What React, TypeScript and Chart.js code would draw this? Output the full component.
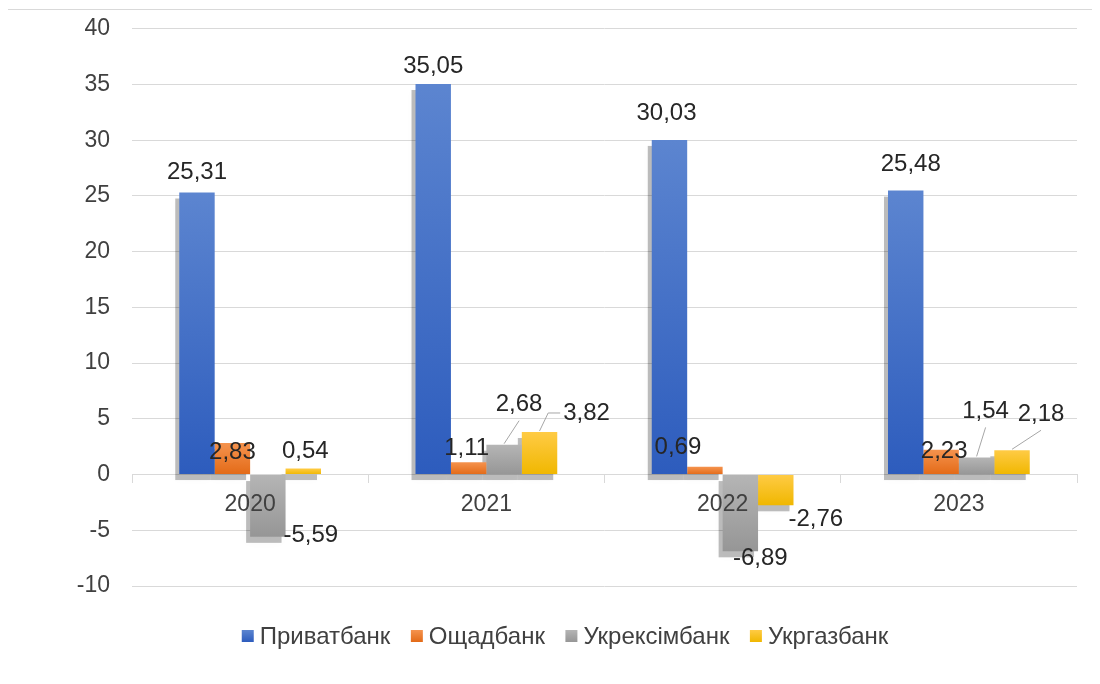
import React, { useEffect, useRef } from "react";
import { Chart, registerables } from "chart.js";

Chart.register(...registerables);

// ---- data ----
const years = ["2020", "2021", "2022", "2023"];
const bankNames = ["Приватбанк", "Ощадбанк", "Укрексімбанк", "Укргазбанк"];
const privatbank = [25.31, 35.05, 30.03, 25.48];
const oschadbank = [2.83, 1.11, 0.69, 2.23];
const ukreximbank = [-5.59, 2.68, -6.89, 1.54];
const ukrgasbank = [0.54, 3.82, -2.76, 2.18];
const yMin = -10;
const yMax = 40;
const yStep = 5;

// ---- styles ----
const barGradients = [
  ["#5c85d0", "#2d5cbd"],
  ["#f5934e", "#e36a17"],
  ["#b5b5b5", "#969696"],
  ["#ffcb45", "#f0b700"],
];

// label placement (offsets in px from default spot) and leader-line kind
const labelOffsets = [
  [[0, 0], [0, 2], [-3, -7], [5, -6]],
  [[0, 29], [-2, 6], [-27, 1], [3, 22]],
  [[43, -21], [15, -20], [20, -13], [9, -26]],
  [[2, 3], [47, 1], [40, -6], [29, -16]],
];
const leaderKinds = [
  [0, 0, 0, 0],
  [0, 0, 0, 0],
  [0, 1, 0, 1],
  [0, 2, 0, 1],
];

const FONT = '"Liberation Sans", Arial, sans-serif';
const fmt = (v: number) => v.toFixed(2).replace(".", ",");
const CANVAS_SHIFT = 17;

function makeGrad(ctx: CanvasRenderingContext2D, top: number, bottom: number, idx: number) {
  const g = ctx.createLinearGradient(0, top, 0, Math.max(bottom, top + 1));
  g.addColorStop(0, barGradients[idx][0]);
  g.addColorStop(1, barGradients[idx][1]);
  return g;
}

const shadowPlugin = {
  id: "barShadow",
  beforeDatasetsDraw(chart: any) {
    const ctx = chart.ctx as CanvasRenderingContext2D;
    ctx.save();
    chart.data.datasets.forEach((_ds: any, i: number) => {
      const meta = chart.getDatasetMeta(i);
      meta.data.forEach((bar: any) => {
        const { x, y, base, width } = bar.getProps(["x", "y", "base", "width"], true);
        const top = Math.min(y, base);
        const bottom = Math.max(y, base);
        ctx.shadowColor = "rgba(0,0,0,0.09)";
        ctx.shadowBlur = 9;
        ctx.fillStyle = "rgba(0,0,0,0.26)";
        ctx.fillRect(x - width / 2 - 4, top + 6, width, bottom - top);
      });
    });
    ctx.restore();
  },
};

const labelPlugin = {
  id: "barLabels",
  afterDatasetsDraw(chart: any) {
    const ctx = chart.ctx as CanvasRenderingContext2D;
    ctx.save();
    ctx.font = `24px ${FONT}`;
    ctx.textAlign = "center";
    ctx.textBaseline = "middle";
    chart.data.datasets.forEach((ds: any, i: number) => {
      const meta = chart.getDatasetMeta(i);
      meta.data.forEach((bar: any, j: number) => {
        const v = ds.data[j] as number;
        const { x, y } = bar.getProps(["x", "y"], true);
        const [dx, dy] = labelOffsets[i][j];
        const lx = x + dx;
        const ly = (v >= 0 ? y - 20 : y + 20) + dy;
        const text = fmt(v);
        const kind = leaderKinds[i][j];
        if (kind) {
          ctx.strokeStyle = "#a6a6a6";
          ctx.lineWidth = 1;
          ctx.beginPath();
          if (kind === 1) {
            ctx.moveTo(lx, ly + 16);
            ctx.lineTo(x, y - 1);
          } else {
            const w = ctx.measureText(text).width;
            const sx = lx - w / 2 - 3;
            ctx.moveTo(sx, ly);
            ctx.lineTo(sx - 12, ly);
            ctx.lineTo(x, y - 1);
          }
          ctx.stroke();
        }
        ctx.fillStyle = "#262626";
        ctx.fillText(text, lx, ly);
      });
    });
    ctx.restore();
  },
};

const legendPlugin = {
  id: "customLegend",
  afterDraw(chart: any) {
    const ctx = chart.ctx as CanvasRenderingContext2D;
    ctx.save();
    ctx.font = `24px ${FONT}`;
    ctx.textBaseline = "middle";
    ctx.textAlign = "left";
    const box = 12;
    const gap = 6;
    const spacing = 20.5;
    const widths = bankNames.map((n) => ctx.measureText(n).width);
    const total = widths.reduce((a, w) => a + box + gap + w, 0) + spacing * (bankNames.length - 1);
    const cx = 557;
    const cy = 626 + CANVAS_SHIFT;
    let xPos = cx - total / 2;
    bankNames.forEach((name, i) => {
      ctx.fillStyle = makeGrad(ctx, cy - box / 2, cy + box / 2, i);
      ctx.fillRect(xPos, cy - box / 2, box, box);
      ctx.fillStyle = "#404040";
      ctx.fillText(name, xPos + box + gap, cy + 1);
      xPos += box + gap + widths[i] + spacing;
    });
    ctx.restore();
  },
};

export default function App() {
  const canvasRef = useRef<HTMLCanvasElement | null>(null);

  useEffect(() => {
    if (!canvasRef.current) return;
    const series = [privatbank, oschadbank, ukreximbank, ukrgasbank];
    const chart = new Chart(canvasRef.current, {
      type: "bar",
      data: {
        labels: years,
        datasets: series.map((vals, idx) => ({
          label: bankNames[idx],
          data: vals,
          backgroundColor: (c: any) => {
            const ch = c.chart;
            if (!ch.chartArea || c.raw === undefined) return barGradients[idx][1];
            const ys = ch.scales.y;
            const p0 = ys.getPixelForValue(0);
            const p1 = ys.getPixelForValue(c.raw);
            return makeGrad(ch.ctx, Math.min(p0, p1), Math.max(p0, p1), idx);
          },
          borderWidth: 0,
          barPercentage: 1,
          categoryPercentage: 0.6,
        })),
      },
      options: {
        responsive: false,
        animation: false,
        layout: { padding: { top: 1, right: 43, bottom: 89 - CANVAS_SHIFT, left: 0 } },
        plugins: {
          legend: { display: false },
          tooltip: { enabled: false },
        },
        scales: {
          x: {
            position: { y: 0 } as any,
            grid: {
              offset: true,
              drawOnChartArea: false,
              drawTicks: true,
              tickLength: 8,
              color: "#d9d9d9",
            },
            border: { display: true, color: "#d9d9d9", width: 1 },
            ticks: {
              z: 1,
              color: "#404040",
              font: { family: FONT, size: 23 },
              padding: 8,
              maxRotation: 0,
            },
          },
          y: {
            min: yMin,
            max: yMax,
            afterFit: (s: any) => {
              s.width = 124;
            },
            grid: { color: "#d9d9d9", drawTicks: false, lineWidth: 1 },
            border: { display: false },
            ticks: {
              stepSize: yStep,
              color: "#404040",
              font: { family: FONT, size: 23 },
              padding: 22,
            },
          },
        },
      },
      plugins: [shadowPlugin, labelPlugin, legendPlugin],
    });
    return () => chart.destroy();
  }, []);

  return (
    <div style={{ position: "relative", width: 1092, height: 668, overflow: "hidden" }}>
      <div
        style={{
          position: "absolute",
          left: -1,
          top: 1,
          width: 1114,
          height: 700,
          border: "1px solid #d9d9d9",
          boxSizing: "border-box",
          background: "#fff",
        }}
      >
        <canvas
          ref={canvasRef}
          width={1112}
          height={665}
          style={{ display: "block", position: "relative", top: -CANVAS_SHIFT }}
        />
      </div>
    </div>
  );
}
